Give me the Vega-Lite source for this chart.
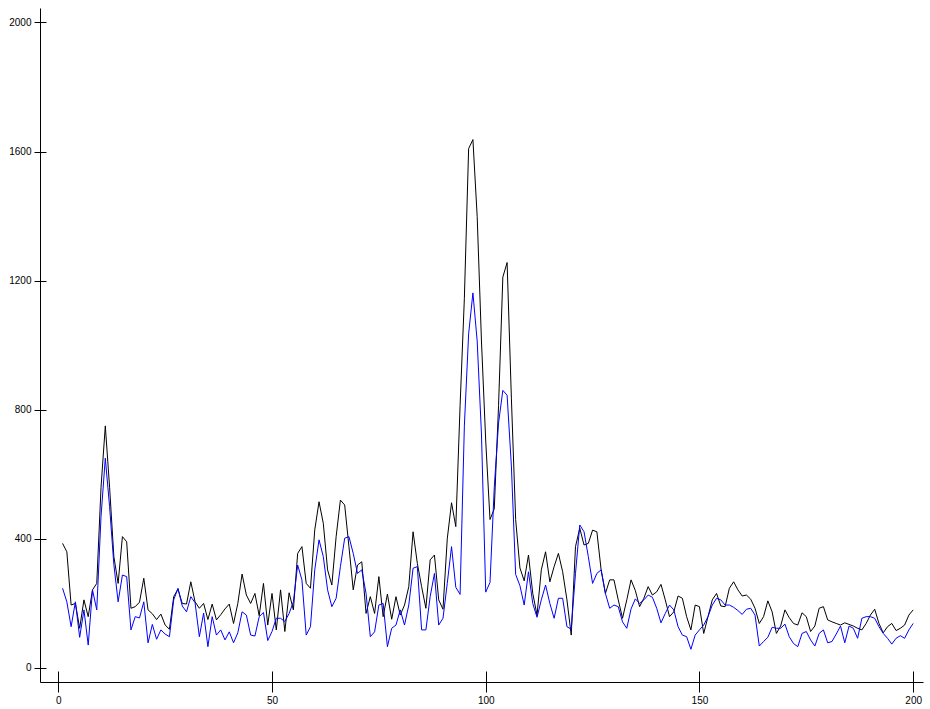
{
"$schema": "https://vega.github.io/schema/vega-lite/v6.json",
"width": 883, "height": 674,
"autosize": "none",
"padding": {"left": 40, "top": 8, "right": 7, "bottom": 27},
"background": "white",
"config": {"view": {"stroke": null}},
"data": {"values": [
{"x":1,"k":386,"b":247},{"x":2,"k":360,"b":205},{"x":3,"k":195,"b":128},{"x":4,"k":200,"b":205},{"x":5,"k":123,"b":95},
{"x":6,"k":211,"b":180},{"x":7,"k":159,"b":71},{"x":8,"k":242,"b":242},{"x":9,"k":262,"b":180},{"x":10,"k":560,"b":470},
{"x":11,"k":750,"b":650},{"x":12,"k":560,"b":500},{"x":13,"k":345,"b":320},{"x":14,"k":262,"b":205},{"x":15,"k":407,"b":288},
{"x":16,"k":391,"b":283},{"x":17,"k":185,"b":118},{"x":18,"k":190,"b":159},{"x":19,"k":204,"b":155},{"x":20,"k":278,"b":205},
{"x":21,"k":180,"b":78},{"x":22,"k":168,"b":135},{"x":23,"k":150,"b":89},{"x":24,"k":167,"b":118},{"x":25,"k":133,"b":105},
{"x":26,"k":120,"b":97},{"x":27,"k":221,"b":211},{"x":28,"k":244,"b":247},{"x":29,"k":200,"b":192},{"x":30,"k":198,"b":174},
{"x":31,"k":267,"b":221},{"x":32,"k":205,"b":202},{"x":33,"k":185,"b":97},{"x":34,"k":200,"b":170},{"x":35,"k":150,"b":66},
{"x":36,"k":198,"b":159},{"x":37,"k":149,"b":102},{"x":38,"k":165,"b":118},{"x":39,"k":183,"b":87},{"x":40,"k":198,"b":112},
{"x":41,"k":138,"b":78},{"x":42,"k":200,"b":109},{"x":43,"k":291,"b":174},{"x":44,"k":226,"b":164},{"x":45,"k":200,"b":102},
{"x":46,"k":231,"b":99},{"x":47,"k":162,"b":159},{"x":48,"k":262,"b":172},{"x":49,"k":133,"b":85},{"x":50,"k":231,"b":113},
{"x":51,"k":118,"b":154},{"x":52,"k":242,"b":154},{"x":53,"k":113,"b":144},{"x":54,"k":233,"b":169},{"x":55,"k":180,"b":205},
{"x":56,"k":355,"b":319},{"x":57,"k":376,"b":273},{"x":58,"k":262,"b":102},{"x":59,"k":247,"b":128},{"x":60,"k":428,"b":304},
{"x":61,"k":515,"b":397},{"x":62,"k":448,"b":345},{"x":63,"k":304,"b":242},{"x":64,"k":257,"b":190},{"x":65,"k":407,"b":216},
{"x":66,"k":520,"b":314},{"x":67,"k":505,"b":402},{"x":68,"k":376,"b":407},{"x":69,"k":242,"b":355},{"x":70,"k":319,"b":293},
{"x":71,"k":329,"b":304},{"x":72,"k":169,"b":231},{"x":73,"k":221,"b":97},{"x":74,"k":169,"b":112},{"x":75,"k":283,"b":195},
{"x":76,"k":159,"b":200},{"x":77,"k":229,"b":66},{"x":78,"k":151,"b":123},{"x":79,"k":221,"b":133},{"x":80,"k":164,"b":180},
{"x":81,"k":195,"b":133},{"x":82,"k":252,"b":195},{"x":83,"k":422,"b":309},{"x":84,"k":324,"b":314},{"x":85,"k":252,"b":118},
{"x":86,"k":185,"b":118},{"x":87,"k":335,"b":221},{"x":88,"k":350,"b":293},{"x":89,"k":211,"b":133},{"x":90,"k":182,"b":154},
{"x":91,"k":400,"b":262},{"x":92,"k":512,"b":376},{"x":93,"k":438,"b":250},{"x":94,"k":813,"b":228},{"x":95,"k":1145,"b":750},
{"x":96,"k":1609,"b":1035},{"x":97,"k":1637,"b":1162},{"x":98,"k":1399,"b":1013},{"x":99,"k":1013,"b":725},{"x":100,"k":703,"b":235},
{"x":101,"k":460,"b":265},{"x":102,"k":493,"b":560},{"x":103,"k":813,"b":759},{"x":104,"k":1211,"b":860},{"x":105,"k":1256,"b":845},
{"x":106,"k":836,"b":626},{"x":107,"k":460,"b":290},{"x":108,"k":310,"b":255},{"x":109,"k":270,"b":195},{"x":110,"k":350,"b":298},
{"x":111,"k":231,"b":200},{"x":112,"k":164,"b":157},{"x":113,"k":304,"b":211},{"x":114,"k":360,"b":257},{"x":115,"k":267,"b":200},
{"x":116,"k":314,"b":154},{"x":117,"k":355,"b":216},{"x":118,"k":298,"b":216},{"x":119,"k":211,"b":128},{"x":120,"k":102,"b":120},
{"x":121,"k":376,"b":293},{"x":122,"k":433,"b":443},{"x":123,"k":381,"b":422},{"x":124,"k":386,"b":345},{"x":125,"k":427,"b":262},
{"x":126,"k":422,"b":293},{"x":127,"k":304,"b":304},{"x":128,"k":231,"b":231},{"x":129,"k":273,"b":185},{"x":130,"k":273,"b":195},
{"x":131,"k":211,"b":190},{"x":132,"k":154,"b":143},{"x":133,"k":211,"b":123},{"x":134,"k":273,"b":183},{"x":135,"k":240,"b":214},
{"x":136,"k":190,"b":200},{"x":137,"k":216,"b":211},{"x":138,"k":252,"b":226},{"x":139,"k":226,"b":219},{"x":140,"k":236,"b":185},
{"x":141,"k":259,"b":140},{"x":142,"k":211,"b":169},{"x":143,"k":159,"b":195},{"x":144,"k":174,"b":180},{"x":145,"k":223,"b":128},
{"x":146,"k":216,"b":102},{"x":147,"k":159,"b":97},{"x":148,"k":118,"b":58},{"x":149,"k":195,"b":102},{"x":150,"k":190,"b":118},
{"x":151,"k":107,"b":133},{"x":152,"k":159,"b":159},{"x":153,"k":211,"b":195},{"x":154,"k":231,"b":216},{"x":155,"k":192,"b":211},
{"x":156,"k":190,"b":195},{"x":157,"k":247,"b":195},{"x":158,"k":267,"b":188},{"x":159,"k":242,"b":178},{"x":160,"k":223,"b":166},
{"x":161,"k":226,"b":182},{"x":162,"k":213,"b":185},{"x":163,"k":185,"b":164},{"x":164,"k":138,"b":68},{"x":165,"k":159,"b":82},
{"x":166,"k":208,"b":95},{"x":167,"k":174,"b":126},{"x":168,"k":107,"b":123},{"x":169,"k":130,"b":123},{"x":170,"k":180,"b":136},
{"x":171,"k":156,"b":97},{"x":172,"k":138,"b":76},{"x":173,"k":133,"b":66},{"x":174,"k":171,"b":107},{"x":175,"k":159,"b":113},
{"x":176,"k":113,"b":87},{"x":177,"k":130,"b":68},{"x":178,"k":185,"b":107},{"x":179,"k":190,"b":118},{"x":180,"k":149,"b":78},
{"x":181,"k":143,"b":82},{"x":182,"k":138,"b":105},{"x":183,"k":133,"b":130},{"x":184,"k":140,"b":78},{"x":185,"k":135,"b":130},
{"x":186,"k":130,"b":123},{"x":187,"k":123,"b":92},{"x":188,"k":118,"b":154},{"x":189,"k":138,"b":159},{"x":190,"k":164,"b":159},
{"x":191,"k":182,"b":154},{"x":192,"k":138,"b":128},{"x":193,"k":109,"b":107},{"x":194,"k":128,"b":92},{"x":195,"k":138,"b":74},
{"x":196,"k":116,"b":92},{"x":197,"k":123,"b":100},{"x":198,"k":133,"b":92},{"x":199,"k":164,"b":118},{"x":200,"k":180,"b":138}
]},
"layer": [
{
"mark": {"type": "line", "color": "#000000", "strokeWidth": 1},
"encoding": {
"x": {"field": "x", "type": "quantitative", "scale": {"domain": [-4.28, 202.3], "nice": false, "zero": false},
 "axis": {"orient": "bottom", "title": null, "grid": false, "values": [0, 50, 100, 150, 200], "format": "d", "tickSize": 10, "labelPadding": 3,
 "domainColor": "#000000", "tickColor": "#000000", "labelColor": "#000000", "labelFont": "Liberation Sans", "labelFontSize": 10, "labelFlush": false, "labelOverlap": false}},
"y": {"field": "k", "type": "quantitative", "scale": {"domain": [-43.4, 2044.6], "nice": false, "zero": false},
 "axis": {"orient": "left", "title": null, "grid": false, "values": [0, 400, 800, 1200, 1600, 2000], "format": "d", "tickSize": 6, "labelPadding": 3,
 "domainColor": "#000000", "tickColor": "#000000", "labelColor": "#000000", "labelFont": "Liberation Sans", "labelFontSize": 10, "labelFlush": false, "labelOverlap": false}}
}
},
{
"mark": {"type": "line", "color": "#0000ff", "strokeWidth": 1},
"encoding": {
"x": {"field": "x", "type": "quantitative", "scale": {"domain": [-4.28, 202.3], "nice": false, "zero": false},
 "axis": {"orient": "bottom", "title": null, "grid": false, "values": [0, 50, 100, 150, 200], "tickSize": -11, "labels": false, "domain": false, "tickColor": "#000000"}},
"y": {"field": "b", "type": "quantitative", "scale": {"domain": [-43.4, 2044.6], "nice": false, "zero": false},
 "axis": {"orient": "left", "title": null, "grid": false, "values": [0, 400, 800, 1200, 1600, 2000], "tickSize": -6, "labels": false, "domain": false, "tickColor": "#000000"}}
}
}
],
"resolve": {"scale": {"x": "independent", "y": "independent"}, "axis": {"x": "independent", "y": "independent"}}
}
